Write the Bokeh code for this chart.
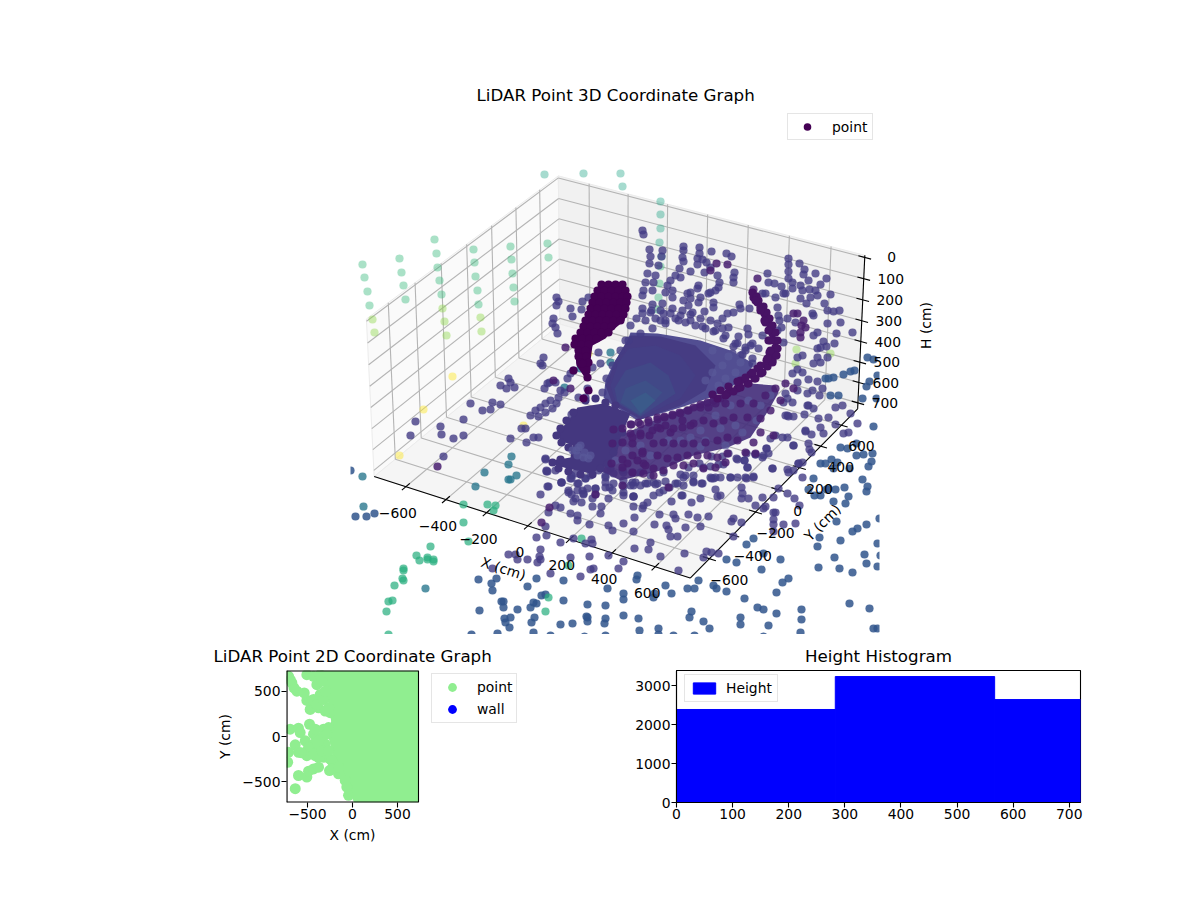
import numpy as np
from bokeh.embed import file_html
from bokeh.resources import INLINE
from bokeh.plotting import figure
from bokeh.layouts import column, row
from bokeh.models import Range1d, Label, Legend, LegendItem, FixedTicker, Title

# ---------- 3D axis values ----------
x_ticks = [-600, -400, -200, 0, 200, 400, 600]
y_ticks = [-600, -400, -200, 0, 200, 400, 600]
h_ticks = [0, 100, 200, 300, 400, 500, 600, 700]
x_tick_labels = ["−600", "−400", "−200", "0", "200", "400", "600"]
y_tick_labels = ["−600", "−400", "−200", "0", "200", "400", "600"]
h_tick_labels = ["0", "100", "200", "300", "400", "500", "600", "700"]
x_lim = (-760, 760)
y_lim = (-760, 760)
h_lim = (730, -10)   # inverted axis: bottom value, top value

# ---------- 3D scene points, as read from the view plane ----------
wall_teal = [(544,174),(583,173),(620,173),(622,186),(660,201),(660,214),(660,228),(659,242),(661,256)]
wall_green = [(434,239),(436,253),(437,267),(439,280),(441,294),(399,258),(401,272),(403,285),(405,299),
              (362,264),(364,277),(367,291),(369,305),(473,249),(474,262),(475,276),(477,290),(478,304),
              (510,246),(511,259),(512,273),(513,287),(514,301),(547,243),(548,257),
              (660,266),(659,283),(658,297),(657,309)]
wall_lime = [(372,319),(374,332),(442,308),(444,321),(446,335),(480,317),(481,331),(796,349),(830,353),(795,363)]
wall_yellow = [(452,376),(423,409),(399,455),(523,425),(588,353)]
teal_bright = [(463,504),(463,522),(468,541),(487,504),(495,505),(493,510),(430,546),(416,555),(419,560),
               (427,557),(427,559),(433,559),(433,561),(403,568),(403,570),(403,580),(402,578),(394,585),
               (388,601),(392,600),(386,611),(388,634),(548,597),(545,611),(568,565),(581,538)]
teal_mid = [(511,456),(508,464),(484,472),(516,475),(508,479),(510,479),(475,486),(362,476),(363,506),
            (610,352),(610,362),(585,363),(580,368),(564,387),(425,588)]
steel = [(350,470),(355,516),(366,516),(374,513),(873,426),(840,447),(847,448),(856,455),(863,454),(872,453),
         (871,461),(868,466),(856,443),(837,462),(831,459),(820,463),(825,463),(833,468),(849,468),(862,479),
         (867,486),(866,491),(844,487),(835,489),(828,488),(820,495),(814,495),(813,478),(808,489),(826,489),
         (848,496),(833,501),(845,503),(879,518),(866,524),(857,528),(852,531),(836,521),(819,537),(817,546),
         (840,540),(877,543),(864,554),(880,555),(866,563),(834,557),(818,567),(839,568),(852,572),(877,566),
         (780,559),(761,569),(763,553),(753,538),(746,544),(736,562),(726,559),(788,578),(782,582),(776,592),
         (744,598),(757,607),(763,609),(776,613),(801,609),(801,619),(849,603),(869,608),(768,625),(740,617),
         (740,624),(703,621),(709,628),(691,611),(689,617),(639,630),(658,628),(658,634),(673,635),(694,635),
         (800,632),(873,628),(877,628),(763,636),(638,618),(623,615),(623,599),(623,593),(637,575),(636,579),
         (653,597),(654,593),(665,585),(671,593),(687,588),(694,588),(698,580),(713,585),(716,588),(726,591),
         (478,579),(496,578),(491,583),(492,590),(527,586),(536,578),(563,580),(607,588),(541,595),(545,594),
         (563,600),(501,601),(503,601),(503,607),(479,610),(517,609),(530,607),(533,602),(536,603),(587,604),
         (605,605),(504,618),(510,617),(505,622),(509,627),(531,622),(534,617),(560,624),(572,623),(586,616),
         (587,617),(587,621),(605,618),(604,623),(533,632),(471,634),(497,633),(550,635),(584,636),(605,635),
         (867,357),(873,359),(850,371),(854,370),(843,374),(833,377),(828,378),(825,378),(869,381),(866,386),
         (877,375),(838,395),(830,395),(862,398),(876,398)]
indigo = [(470,403),(482,410),(492,402),(500,404),(490,409),(463,419),(415,421),(440,426),(441,434),(463,435),
          (453,438),(410,435),(443,456),(510,438),(526,442),(533,437),(538,437),(521,428),(525,428),
          (546,471),(561,482),(548,486),(540,494),(571,475),(568,492),(571,494),(582,490),(585,478),(609,487),
          (612,490),(601,506),(592,506),(581,502),(573,501),(555,505),(560,507),(548,512),(570,513),(577,515),
          (577,520),(600,513),(608,525),(612,530),(589,524),(545,526),(536,537),(546,535),(560,542),(573,538),
          (591,539),(592,543),(585,543),(608,555),(589,556),(570,557),(540,549),(539,556),(540,559),(537,562),
          (527,559),(517,559),(508,554),(515,554),(492,568),(550,573),(580,576),(593,568),(590,569),(618,568),
          (623,561),(634,548),(648,549),(650,542),(660,556),(684,553),(678,570),(703,557),(706,551),(711,552),
          (718,553),(733,536),(670,536),(677,536),(668,529),(666,525),(654,524),(633,531),(685,527),(700,526),
          (708,516),(697,517),(688,514),(675,518),(673,514),(659,514),(634,517),(623,523),(731,521),(733,518),
          (741,522),(755,505),(763,508),(765,506),(773,497),(778,488),(787,493),(794,498),(799,505),(773,512),
          (775,512),(773,519),(773,524),(783,524),(795,523),(773,531),(762,497),(748,498),(741,498),(742,493),
          (741,487),(717,496),(715,489),(700,498),(691,502),(681,495),(671,501),(659,492),(647,502),(643,505),
          (642,508),(633,506),(633,496),(711,478),(715,477),(730,477),(737,477),(746,478),(753,477),(701,483),
          (693,481),(683,485),(675,483),(669,487),(665,481),(655,484),(645,483),(633,485),(623,486),(772,468),
          (787,469),(793,470),(802,477),(798,463),(802,462),(747,467),(736,458),(744,460),(755,454),(762,457),
          (766,448),(768,453),(793,445),(809,449),(811,452),(823,433),(805,431),(811,434),(820,427),(828,417),
          (835,407),(842,405),(850,413),(843,433),(857,423),(848,432),(835,424),(818,418),(813,408),(808,405),
          (787,415),(793,416),(788,258),(788,264),(788,271),(788,278),(792,282),(792,288),(799,263),(804,269),
          (803,274),(815,273),(808,280),(820,284),(826,278),(809,289),(815,290),(830,294),(810,297),(817,295),
          (806,303),(824,303),(833,311),(839,310),(840,322),(827,310),(827,323),(812,313),(813,315),(800,285),
          (802,290),(800,298),(785,293),(795,322),(787,318),(781,327),(793,333),(817,332),(813,335),(852,332),
          (836,333),(823,341),(826,346),(834,343),(817,348),(820,347),(797,357),(802,355),(817,357),(827,357),
          (813,363),(820,362),(783,342),(777,330),(779,320),(778,315),(767,273),(768,282),(774,283),(781,286),
          (783,293),(762,293),(765,293),(775,297),(777,307),(808,379),(817,381),(797,369),(802,372),(792,373),
          (797,382),(822,388),(819,395),(812,390),(785,393),
          (649,249),(650,256),(649,263),(647,273),(645,282),(643,290),(642,295),(662,250),(661,256),(658,265),
          (655,275),(653,282),(652,290),(642,230),(643,234),(683,246),(683,250),(682,257),(683,261),(679,268),
          (675,275),(680,277),(670,280),(667,285),(665,292),(672,290),(672,297),(662,303),(699,247),(699,253),
          (697,258),(697,264),(690,271),(711,251),(702,259),(706,262),(710,267),(726,253),(731,256),(734,272),
          (733,277),(733,282),(704,272),(717,275),(719,282),(718,287),(715,290),(710,292),(698,285),(697,288),
          (708,293),(690,292),(687,293),(690,298),(683,300),(688,305),(682,310),(680,315),(700,297),(698,302),
          (713,302),(713,307),(704,311),(692,312),(652,304),(651,310),(642,308),(642,313),(663,313),(670,313),
          (660,320),(727,313),(733,312),(722,318),(717,323),(739,304),(740,308),(749,308),(728,327),(747,328),
          (748,334),(762,335),(758,348),(752,343),(745,347),(737,343),(732,353),(740,355),
          (556,297),(558,301),(556,305),(570,308),(572,316),(581,309),(582,301),(588,297),(553,318),(552,323),
          (555,327),(557,333),(543,357),(540,363),(542,365),(508,378),(510,382),(500,385),(506,388),(514,387),
          (544,388),(549,382),(567,378),(570,373),(573,370),(560,390),(592,367),(600,363),(598,352),(587,388),
          (585,397),(578,397),(547,383),(555,382),(530,415),(535,410),(540,407),(545,403),(550,400),(538,416),
          (545,412),(552,408),(558,397),(564,392),(556,403),
          (545,458),(547,471),(561,482),(570,478),(575,473),(577,483),(568,490),(583,493),(595,488),(595,494),
          (605,477),(610,468),(622,470),(623,492),(633,496),(635,482),(647,483),(657,483),(677,483),(683,477),
          (693,482),(702,483),(713,478),(720,477),(682,495),(720,495)]
indigo_more = [(737,459),(744,460),(747,467),(755,454),(763,455),(766,448),(746,453),(728,453),(722,456),(718,464),
               (723,464),(711,456),(710,466),(703,467),(699,463),(688,467),(680,474),(685,475),(693,475),(710,477),
               (730,477),(745,477),(753,476),(772,468),(788,472),(793,445),(788,416),(785,415),(804,414),(805,430),
               (770,438),(775,435),(787,437),(782,437),(787,398),(792,402),(783,402),(797,390),(807,393),(807,405),
               (808,443),(798,463),(545,459),(546,470),(555,470),(561,482),(547,486),(571,478),(578,483),(585,478),
               (590,475),(598,470),(607,470),(605,475),(605,482),(613,473),(613,483),(623,472),(623,480),(632,472),
               (632,482),(640,472),(650,475),(663,472),(653,482),(640,485),(630,485),(577,490),(587,488),(595,488),
               (605,487),(583,494),(575,498),(592,498),(608,498),(623,495),(633,496),(653,495),(663,490),(571,414),
               (560,433),(563,438)]
fan_edge = [(628,340),(640,333),(652,328),(665,323),(678,320),(690,320),(702,326),(713,331),(723,338),(733,346),
            (742,354),(752,363),(630,325),(636,318),(645,320),(655,318),(665,320),(675,318),(685,322),(695,325),
            (705,328),(715,330),(725,335),(735,343),(745,350),(752,358),(625,340),(620,350),(612,365),(606,378),
            (602,392),(650,312),(660,310),(672,308),(690,314),(700,318),(710,320),(722,328),(738,336),(750,345)]
wing_edge = [(573,412),(566,420),(560,428),(556,435),(561,442),(568,447),(574,452),(560,459),(552,462),(558,468),
             (568,471),(580,474),(592,474),(600,468),(607,463),(613,452),(617,442),(622,432),(585,400),(595,398),
             (605,402),(615,405)]
mass_texture = [(700,430),(690,437),(705,440),(720,428),(735,425),(760,405),(748,400),(770,395),(680,440),(668,440),
                (650,455),(640,445),(625,450),(615,460),(730,405),(715,415),(700,446),(725,445),(742,432),(756,420),
                (580,445),(584,452),(576,450),(588,458),(572,450),(577,455),(583,457),(578,447),(590,455),
                (722,365),(735,372),(725,378),(712,372),(718,385),(705,380),(740,362),(728,356),(712,350)]
purple = [(437,466),(541,522),(549,507),(595,494),(565,347),(553,380),(570,388),(793,313),(797,313),(801,325),
          (803,320),(805,327),(800,332),(800,337),(757,278),(753,289),(785,383),(793,388),(716,263),(727,264),
          (710,270),(611,463),(622,459),(622,485),(632,455),(642,451),(643,463),(653,475),(668,487),
          (630,424),(638,422),(648,420),(657,417),(664,417),(672,415),(680,413),(688,410),(700,407),(708,407),
          (715,403),(725,403),(740,403),(753,403),(630,433),(640,433),(652,430),(660,428),(670,432),(682,427),
          (693,423),(703,420),(713,423),(723,420),(733,417),(747,417),(760,432),(773,435),(753,442),
          (622,442),(632,443),(642,453),(653,443),(663,442),(673,443),(683,443),(693,443),(705,442),(717,440),
          (727,437),(737,440),(745,452),(755,453),(727,453),(717,457),(707,455),(697,455),(687,455),(677,457),
          (667,458),(657,455),(645,465),(637,460),(627,463),(622,467),(632,472),(643,473),(653,468),(663,470),
          (673,465),(683,465),(693,463),(703,468),(715,467),(725,462),
          (613,429),(622,428),(631,424),(640,424),(648,422),(657,419),(664,416),(672,414),(679,412),(687,410),
          (693,407),(700,404),(707,402),(713,400),(720,398),(612,443),(632,437),(640,435),(649,435),(657,427),
          (665,425),(673,428),(682,420),(690,425),(765,395),(775,388),(770,410),(760,418),(780,400)]
ridge = [(753,297),(757,302),(760,307),(764,313),(767,320),(770,327),(772,333),(774,340),(775,347),(774,354),
         (772,360),(767,366),(760,373),(754,378),(747,383),(737,388),(727,393),(752,292),(758,300),(765,322),(768,340),
         (769,352),(766,360),(757,368),(750,374),(740,380),(756,296),(763,306),(766,312),(769,318),(772,325),
         (775,332),(777,340),(777,348),(776,355),(772,362),(762,372),(755,378),(748,383),(740,387),(733,391),
         (725,395),(717,398),(755,300),(760,310),(764,320),(768,330),(770,340),(770,350),(767,358),(760,365),
         (752,372),(745,377),(737,381),(728,386),(720,390),(712,394)]
blob = [(601,284),(608,284),(615,284),(622,284),(597,290),(604,290),(611,290),(618,290),(625,290),
        (594,296),(601,296),(608,296),(615,296),(622,296),(627,296),(592,302),(599,302),(606,302),(613,302),
        (620,302),(626,302),(590,308),(597,308),(604,308),(611,308),(618,308),(625,308),(588,314),(595,314),
        (602,314),(609,314),(616,314),(623,314),(585,320),(592,320),(599,320),(606,320),(613,320),(620,320),
        (583,326),(590,326),(597,326),(604,326),(611,326),(580,332),(587,332),(594,332),(601,332),(608,332),
        (575,338),(582,338),(589,338),(596,338),(574,344),(581,344),(588,344),(578,350),(585,350),(578,356),
        (586,356),(580,362),(588,362),(573,370),(587,377),(582,363),(588,390),(583,398)]

# dense masses, as outlines on the view plane
blob_core = [(600,282),(622,282),(628,290),(628,305),(624,320),(612,330),(605,338),(592,345),(590,360),(590,372),
             (585,378),(576,365),(574,345),(578,335),(585,320),(590,305),(595,292)]
fan_band_a = [(630,332),(657,333),(700,340),(730,350),(753,363),(747,377),(733,385),(710,397),(680,407),(637,420),
              (610,403),(603,397),(605,380),(613,363),(627,340)]
fan_band_b = [(630,335),(660,336),(695,345),(715,365),(705,390),(680,405),(640,419),(612,403),(605,385),(615,360)]
fan_band_c = [(628,348),(655,345),(680,355),(695,375),(680,398),(640,417),(615,402),(610,385),(618,362)]
fan_band_d = [(625,370),(650,362),(668,375),(675,393),(640,416),(617,402),(614,388)]
fan_band_e = [(625,388),(645,380),(662,392),(640,415),(620,402)]
fan_band_f = [(630,400),(645,392),(655,400),(640,413)]
wing = [(577,407),(603,403),(630,413),(620,437),(617,450),(610,463),(590,473),(567,468),(550,463),(552,460),
        (570,457),(572,445),(560,440),(557,433),(568,420)]
under_mass = [(610,440),(660,417),(750,383),(775,385),(778,392),(768,410),(750,437),(727,447),(693,455),(660,470),
              (620,480),(600,470)]

# ---------- 2D panel values (cm) ----------
xy_x_ticks = [-500, 0, 500]
xy_y_ticks = [-500, 0, 500]
xy_tick_text = {-500: "−500", 0: "0", 500: "500"}
point_2d = [(-636,-580),(-600,-433),(-507,-451),(-488,-385),(-433,-360),(-377,-341),(-255,-378),(-155,-415),
            (-692,81),(-600,92),(-581,44),(-636,-92),(-525,-48),(-477,136),(-710,-176),(-600,-176),(-507,-213),
            (-414,-213),(-720,-286),(-470,301),(-507,400),(-451,400),(-536,484),(-618,503),(-673,595),(-710,668),
            (-507,686),(-433,668),(-396,576),(-359,466),(-433,26),(-359,-11),(-396,-121),(-303,-84),(-433,-84),
            (-488,-121),(-322,-231),(-248,-250),(-211,-305),(-414,81),(-322,81),(-266,99),(-377,319),(-303,283),
            (-248,264),(-433,411),(-340,448),(-650,540),(-690,630),(-570,-180),(-377,-231),(-433,-195),(-340,-158),
            (-266,-158),(-377,-48),(-285,26),(-229,-268),(-229,-360),(-155,-341),(-81,-488),(-63,-561),(-44,-653),
            (-396,356),(-322,411),(-303,503),(-340,613),(-359,686),(-266,319)]
point_body_x = [-359,-285,-237,-266,-229,-211,-100,-44,18,733,733,-359]
point_body_y = [733,466,172,-11,-158,-286,-451,-598,-733,-733,733,733]
wall_2d_x = [5000]   # the wall series has no point inside the axes limits
wall_2d_y = [5000]

# ---------- Histogram values ----------
hist_edges = [0, 283, 567, 720]
hist_counts = [2385, 3230, 2640]
hist_x_ticks = [0, 100, 200, 300, 400, 500, 600, 700]
hist_y_ticks = [0, 1000, 2000, 3000]

FONT = "DejaVu Sans"
TICK = "13.9px"


def project(X, Y, H):
    """mplot3d-style perspective view (elev 30, azim -60) onto the view plane."""
    aspect = np.array([2.0, 2.0, 1.0])
    box = aspect * 1.8294640721620434 / np.linalg.norm(aspect)
    p = np.array([(X - x_lim[0]) / (x_lim[1] - x_lim[0]) * box[0],
                  (Y - y_lim[0]) / (y_lim[1] - y_lim[0]) * box[1],
                  (H - h_lim[0]) / (h_lim[1] - h_lim[0]) * box[2]])
    e, a = np.radians(30), np.radians(-60)
    R = box / 2
    eye = R + 10 * np.array([np.cos(e) * np.cos(a), np.cos(e) * np.sin(a), np.sin(e)])
    w = (eye - R) / np.linalg.norm(eye - R)
    u = np.cross([0, 0, 1.0], w)
    u /= np.linalg.norm(u)
    v = np.cross(w, u)
    d = p - eye
    xv, yv, zv = u @ d, v @ d, w @ d
    xp, yp = xv / -zv, yv / -zv
    return 620 + xp * 2945, 365 - yp * 2945


def seg(p, q):
    a, b = project(*p), project(*q)
    return [a[0], b[0]], [a[1], b[1]]


scene = figure(width=1184, height=634, x_range=Range1d(0, 1184), y_range=Range1d(634, 106),
               x_axis_type=None, y_axis_type=None, toolbar_location=None, output_backend="svg",
               min_border_left=0, min_border_right=0, min_border_top=106, min_border_bottom=0,
               outline_line_color=None, title="LiDAR Point 3D Coordinate Graph")
scene.grid.visible = False
scene.title.align = "left"
scene.title.offset = 476
scene.title.text_font = FONT
scene.title.text_font_size = "16.7px"
scene.title.text_font_style = "normal"
scene.title.text_color = "black"
scene.title.standoff = 3

x0, x1 = x_lim
y0, y1 = y_lim
hb, ht = h_lim

# panes
panes = [
    ([(x0, y0, hb), (x0, y1, hb), (x0, y1, ht), (x0, y0, ht)], "#fafafa"),
    ([(x0, y1, hb), (x1, y1, hb), (x1, y1, ht), (x0, y1, ht)], "#f1f1f1"),
    ([(x0, y0, hb), (x1, y0, hb), (x1, y1, hb), (x0, y1, hb)], "#f5f5f5"),
]
for corners, col in panes:
    pts = [project(*c) for c in corners]
    scene.patch([q[0] for q in pts], [q[1] for q in pts], fill_color=col, line_color="#ececec", line_width=1)

# grids
gx, gy = [], []
for t in x_ticks:
    a = seg((t, y0, hb), (t, y1, hb)); gx.append(a[0]); gy.append(a[1])
    a = seg((t, y1, hb), (t, y1, ht)); gx.append(a[0]); gy.append(a[1])
for t in y_ticks:
    a = seg((x1, t, hb), (x0, t, hb)); gx.append(a[0]); gy.append(a[1])
    a = seg((x0, t, hb), (x0, t, ht)); gx.append(a[0]); gy.append(a[1])
for t in h_ticks:
    a = seg((x0, y0, t), (x0, y1, t)); gx.append(a[0]); gy.append(a[1])
    a = seg((x0, y1, t), (x1, y1, t)); gx.append(a[0]); gy.append(a[1])
scene.multi_line(gx, gy, line_color="#b4b4b4", line_width=1.1)

# axis lines and ticks
ax, ay = [], []
for p_, q_ in [((x0, y0, hb), (x1, y0, hb)), ((x1, y0, hb), (x1, y1, hb)), ((x1, y1, hb), (x1, y1, ht))]:
    a = seg(p_, q_); ax.append(a[0]); ay.append(a[1])
for t in x_ticks:
    a = seg((t, y0 + 30, hb), (t, y0 - 30, hb)); ax.append(a[0]); ay.append(a[1])
for t in y_ticks:
    a = seg((x1 - 30, t, hb), (x1 + 30, t, hb)); ax.append(a[0]); ay.append(a[1])
for t in h_ticks:
    a = seg((x1 - 30, y1, t), (x1 + 30, y1, t)); ax.append(a[0]); ay.append(a[1])
scene.multi_line(ax, ay, line_color="black", line_width=1.1)


def dots(pairs, color, alpha):
    return scene.scatter([q[0] for q in pairs], [q[1] for q in pairs], size=8.2, marker="circle",
                         fill_color=color, fill_alpha=alpha, line_color=None)


dots(wall_teal, "#20a486", 0.4)
dots(wall_green, "#35b779", 0.42)
dots(wall_lime, "#8bd646", 0.42)
dots(wall_yellow, "#fde725", 0.45)
dots(steel, "#30558c", 0.85)
dots(teal_bright, "#29af7f", 0.72)
dots(teal_mid, "#2a788e", 0.8)
dots(indigo, "#443c84", 0.8)
dots(indigo_more, "#443c84", 0.8)

for outline, col, al in [(under_mass, "#45307c", 0.92), (fan_band_a, "#524e92", 1), (fan_band_b, "#463c83", 1),
                         (fan_band_c, "#443f85", 1), (fan_band_d, "#414887", 1), (fan_band_e, "#3e5088", 1),
                         (fan_band_f, "#3b5a8a", 1), (wing, "#44377f", 1)]:
    scene.patch([q[0] for q in outline], [q[1] for q in outline], fill_color=col, fill_alpha=al, line_color=None)

dots(wing_edge, "#44377f", 1)
dots(fan_edge, "#443c84", 0.8)
dots(mass_texture, "#5a5a9a", 0.7)
dots(purple, "#481f70", 0.85)
dots(ridge, "#471365", 1)
scene.patch([q[0] for q in blob_core], [q[1] for q in blob_core], fill_color="#440154", line_color=None)
leg_r = dots(blob, "#440154", 1)

# the 3D axes box clips its points at left and right
scene.quad(left=[0, 879], right=[350, 1184], bottom=[634, 634], top=[106, 106], fill_color="white", line_color=None)

scene.add_layout(Legend(items=[LegendItem(label="point", renderers=[leg_r])], location=(787, 494),
                        label_text_font=FONT, label_text_font_size=TICK, label_text_color="black",
                        border_line_color="#cccccc", background_fill_alpha=0.8, padding=3, margin=0,
                        glyph_width=32, glyph_height=19, label_standoff=9, label_width=37))


def txt(fig, x, y, s, angle=0.0, size=TICK, align="center"):
    fig.add_layout(Label(x=x, y=y, text=s, angle=angle, angle_units="deg", text_font=FONT, text_font_size=size,
                         text_color="black", text_align=align, text_baseline="middle"))


for t, s in zip(x_ticks, x_tick_labels):
    px, py = project(t, y0, hb)
    txt(scene, px - 8, py + 26, s)
for t, s in zip(y_ticks, y_tick_labels):
    px, py = project(x1, t, hb)
    txt(scene, px + 20, py + 21, s)
for t, s in zip(h_ticks, h_tick_labels):
    px, py = project(x1, y1, t)
    txt(scene, px + 27, py, s)
txt(scene, 503, 568, "X (cm)", angle=-18)
txt(scene, 822, 522, "Y (cm)", angle=45)
txt(scene, 925, 325, "H (cm)", angle=90)


def style_axes(p):
    p.grid.visible = False
    p.outline_line_color = "black"
    p.outline_line_width = 1.1
    p.title.align = "center"
    p.title.text_font = FONT
    p.title.text_font_size = "16.7px"
    p.title.text_font_style = "normal"
    p.title.text_color = "black"
    p.title.standoff = 10
    for ax_ in [p.xaxis[0], p.yaxis[0]]:
        ax_.major_tick_in = 0
        ax_.major_tick_out = 5
        ax_.minor_tick_line_color = None
        ax_.major_label_text_font = FONT
        ax_.major_label_text_font_size = TICK
        ax_.major_label_text_color = "black"
        ax_.axis_label_text_font = FONT
        ax_.axis_label_text_font_size = TICK
        ax_.axis_label_text_font_style = "normal"
        ax_.axis_label_text_color = "black"
        ax_.axis_line_width = 1.1
        ax_.major_tick_line_width = 1.1
        ax_.axis_label_standoff = 7
        ax_.major_label_standoff = 1


# 2D panel: its frame reaches past the square axes so that the legend beside them stays visible
p2 = figure(width=522, height=218, x_range=Range1d(-733, 1888), y_range=Range1d(-733, 733),
            toolbar_location=None, output_backend="svg", min_border_left=286, min_border_right=0,
            min_border_top=36, min_border_bottom=50, title="LiDAR Point 2D Coordinate Graph",
            y_axis_label="Y (cm)")
style_axes(p2)
p2.outline_line_color = None
p2.title.align = "left"
p2.title.offset = -73
p2.xaxis[0].axis_line_color = None
p2.yaxis[0].axis_line_color = None
p2.yaxis[0].axis_label_standoff = 6
p2.xaxis[0].ticker = FixedTicker(ticks=xy_x_ticks)
p2.yaxis[0].ticker = FixedTicker(ticks=xy_y_ticks)
p2.xaxis[0].major_label_overrides = xy_tick_text
p2.yaxis[0].major_label_overrides = xy_tick_text
p2.add_layout(Title(text="X (cm)", align="left", offset=43, standoff=7, text_font=FONT, text_font_size=TICK,
                    text_font_style="normal", text_color="black"), "below")
p2.patch(point_body_x, point_body_y, fill_color="lightgreen", line_color=None)
r_point = p2.scatter([q[0] for q in point_2d], [q[1] for q in point_2d], size=11, marker="circle",
                     fill_color="lightgreen", line_color=None)
r_wall = p2.scatter(wall_2d_x, wall_2d_y, size=9, marker="circle", fill_color="blue", line_color=None)
p2.multi_line([[733, 733]], [[-733, 733]], line_color="black", line_width=1.1)
p2.multi_line([[-733, -733], [-733, 733], [-733, 733]], [[-733, 733], [733, 733], [-733, -733]],
              line_color="black", line_width=2.2)
p2.add_layout(Legend(items=[LegendItem(label="point", renderers=[r_point]), LegendItem(label="wall", renderers=[r_wall])],
                     location=(145, 79), label_text_font=FONT, label_text_font_size=TICK, label_text_color="black",
                     border_line_color="#cccccc", padding=2, margin=0, spacing=-1, glyph_width=36, glyph_height=22,
                     label_standoff=7, label_width=37))

# histogram
p3 = figure(width=662, height=218, x_range=Range1d(0, 720), y_range=Range1d(0, 3385),
            toolbar_location=None, output_backend="svg", min_border_left=154, min_border_right=104,
            min_border_top=36, min_border_bottom=50, title="Height Histogram")
style_axes(p3)
p3.xaxis[0].ticker = FixedTicker(ticks=hist_x_ticks)
p3.yaxis[0].ticker = FixedTicker(ticks=hist_y_ticks)
r_hist = p3.quad(left=hist_edges[:-1], right=hist_edges[1:], bottom=0, top=hist_counts, fill_color="blue",
                 line_color="blue")
p3.add_layout(Legend(items=[LegendItem(label="Height", renderers=[r_hist])], location=(8, 100),
                     label_text_font=FONT, label_text_font_size=TICK, label_text_color="black",
                     border_line_color="#cccccc", padding=5, margin=0, glyph_width=28, glyph_height=14,
                     label_standoff=8, background_fill_alpha=0.8))

page = column(scene, row(p2, p3, spacing=0), spacing=0)
open("out.html", "w").write(file_html(page, INLINE))
